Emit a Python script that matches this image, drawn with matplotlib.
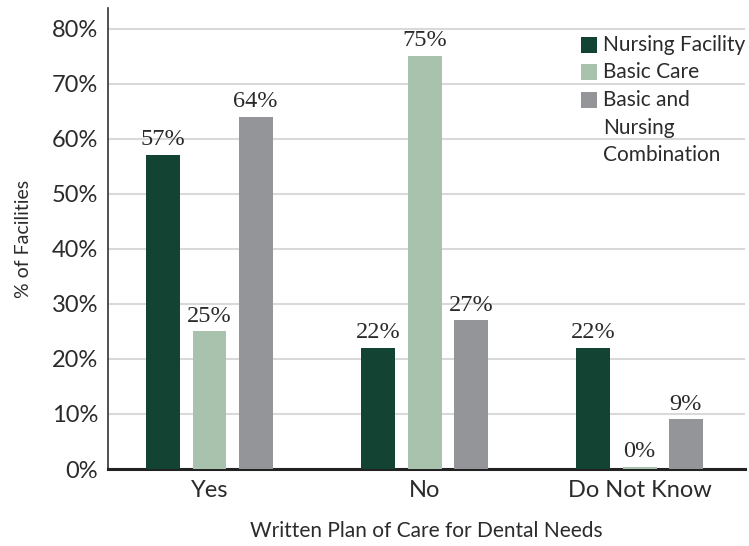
import matplotlib

matplotlib.use("Agg")

import matplotlib.pyplot as plt
import numpy as np
from matplotlib.patches import Rectangle

categories = ["Yes", "No", "Do Not Know"]
series_names = ["Nursing Facility", "Basic Care", "Basic and\nNursing\nCombination"]
nursing_facility = [57, 22, 22]
basic_care = [25, 75, 0]
combination = [64, 27, 9]
y_ticks = [0, 10, 20, 30, 40, 50, 60, 70, 80]

colors = ["#124333", "#a9c2ad", "#939598"]
text_color = "#2b2b2b"
sans = ["Lato", "DejaVu Sans"]
serif = ["Liberation Serif", "DejaVu Serif"]

W, H = 749, 546
fig = plt.figure(figsize=(W / 100, H / 100), dpi=100)
ax = fig.add_axes([108 / W, 1 - 469 / H, 637 / W, 461 / H])

x = np.arange(len(categories))
offset = 0.215
width = 0.158
for i, (values, color) in enumerate(zip([nursing_facility, basic_care, combination], colors)):
    pos = x + (i - 1) * offset
    # a minimum drawn height keeps zero-valued bars visible as a sliver
    ax.bar(pos, np.maximum(values, 0.35), width=width, color=color, linewidth=0, zorder=3)
    for px, v in zip(pos, values):
        ax.text(px, max(v, 0.35) + 0.9, f"{v}%", ha="center", va="bottom", fontsize=17.5,
                family=serif, color=text_color, zorder=4)

ax.set_xlim(-0.472, 2.49)
ax.set_ylim(0, 83.8)
ax.set_yticks(y_ticks)
ax.set_yticklabels([f"{t}%" for t in y_ticks], family=sans, fontsize=17, color=text_color)
ax.set_xticks(x)
ax.set_xticklabels(categories, family=sans, fontsize=17, color=text_color)
ax.tick_params(axis="both", length=0)
ax.tick_params(axis="y", pad=7)
ax.tick_params(axis="x", pad=8)

ax.yaxis.grid(True, color="#d9d9d9", linewidth=1.5, zorder=0)
ax.set_axisbelow(True)
for side in ["top", "right"]:
    ax.spines[side].set_visible(False)
ax.spines["left"].set_color("#333333")
ax.spines["left"].set_linewidth(1.2)
ax.spines["bottom"].set_color("#222222")
ax.spines["bottom"].set_linewidth(2.2)

ax.set_xlabel("Written Plan of Care for Dental Needs", family=sans, fontsize=15,
              color=text_color, labelpad=14)
ax.set_ylabel("% of Facilities", family=sans, fontsize=14, color=text_color, labelpad=14)

# legend: square swatch beside the first line of each label
entry_tops = [37, 64, 92]
for name, color, top in zip(series_names, colors, entry_tops):
    fig.patches.append(Rectangle((581 / W, 1 - (top + 16) / H), 16 / W, 16 / H,
                                 facecolor=color, edgecolor="none",
                                 transform=fig.transFigure, figure=fig))
    fig.text(603 / W, 1 - (top - 2) / H, name, ha="left", va="top", family=sans,
             fontsize=15, color=text_color, linespacing=1.47)

fig.savefig("out.png", dpi=100, facecolor="white")
